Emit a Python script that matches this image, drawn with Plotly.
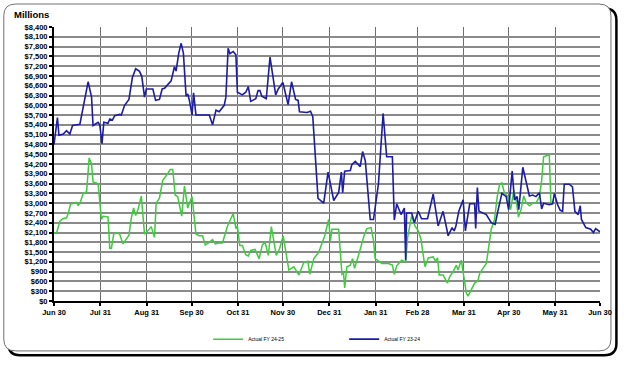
import plotly.graph_objects as go

# ---- data (day offset from Jun 30, value in $) ----
green_days = [0, 1.8, 4, 5.8, 8.4, 9.5, 11.1, 13.3, 15.1, 16.2, 17.8, 19.5, 21.8, 23.5, 25.1, 26.1, 29.5,
              31.7, 32.8, 36.1, 37.3, 38.4, 39.9, 41.7, 43.9, 46.1, 48.4, 50.1, 51.7, 53.2, 54.6, 56.1, 58.4,
              60.5, 62.7, 65, 67.2, 68.3, 70.5, 72.7, 76, 77.6, 79.4, 81, 82.7, 85.4, 87.2, 89.4, 90.5, 92.3,
              94.9, 97.1, 99.3, 101.1, 103.3, 106, 107.8, 110.4, 112.6, 114.4, 116, 118.2, 119.8, 121.6, 122.6,
              124.2, 125.9, 128.2, 129.9, 131.5, 134.4, 137.1, 139.3, 141.1, 143.3, 145.3, 148.6, 150.8, 153.2,
              157, 160.3, 163.7, 167, 169.7, 171, 173.7, 177, 181, 183.6, 184.8, 185.8, 190.3, 192.5, 193.6,
              194.3, 195.8, 198.1, 199.6, 200.9, 203.6, 206.9, 209.1, 212, 213.6, 214.7, 219.1, 223.6, 226.2,
              227.5, 229.1, 232.4, 235.1, 236.4, 239.1, 241.3, 243.5, 245.3, 248, 250.2, 253.5, 255, 256.4,
              257.5, 260.1, 263, 264.6, 266.8, 269, 270.1, 272.3, 274.1, 275.6, 276.8, 279, 281.2, 283.4,
              284.6, 286.8, 289, 290.1, 292.3, 293.4, 294.5, 296.3, 297.9, 299.4, 301.2, 303.4, 305.2, 307.4,
              308.9, 310.5, 312.2, 314, 315.6, 317.8, 320, 322.2, 324.5, 326, 327.3, 331.1, 332.2, 334]
green_values = [2080, 2100, 2450, 2520, 2550, 2680, 2970, 3000, 3020, 2920, 3050, 3300, 3350, 4380, 4200, 3650, 3600,
                2500, 2600, 2580, 1620, 1620, 2050, 2100, 2050, 1750, 1900, 2020, 2550, 2850, 2620, 2800, 3220,
                2050, 2150, 2280, 1950, 3000, 3150, 3700, 3900, 4030, 4030, 3250, 3200, 2600, 3520, 2850, 3000, 3200,
                2050, 2000, 2000, 1720, 1780, 1880, 1750, 1780, 1780, 2100, 2300, 2520, 2680, 2220, 2300,
                1700, 1700, 1420, 1380, 1550, 1580, 1300, 1720, 1800, 1400, 2280, 1400, 1600, 2000,
                950, 1050, 800, 1180, 1220, 820, 1300, 1500, 2000, 2500, 1850, 2200, 2200, 820, 850,
                400, 1050, 1100, 1300, 1000, 1400, 1950, 2220, 2250, 1850, 1300, 1150, 1150, 1100,
                820, 1080, 1250, 1200, 1950, 2620, 2300, 2150, 1900, 1050, 1320, 1350, 1220, 1320,
                800, 800, 550, 750, 900, 1100, 950, 1250, 700, 250, 150, 350, 550, 620,
                850, 1000, 1150, 1500, 2200, 2350, 2500, 3200, 3580, 3620, 3300, 3200, 2800, 3380,
                3100, 2580, 2800, 3220, 3020, 2920, 3000, 3000, 3200, 3700, 4420, 4480, 3000, 3000]

blue_days = [0, 2.3, 3.3, 6.2, 8.4, 10.6, 12.4, 17.3, 22.8, 25.1, 26.1, 29.5, 30.6, 32.1, 33.3, 36.1, 37.3, 39.1,
             40.6, 43.9, 45, 47.2, 50.1, 52.4, 54.6, 57.2, 58.7, 60.5, 61.7, 66.1, 67.9, 70.5, 72.3, 73.9, 75,
             78.3, 80.5, 81.6, 83.4, 85, 86.5, 88.3, 89.4, 90.5, 92.3, 93.3, 94.9, 103.8, 106, 108.3, 110.4,
             113.8, 114.9, 116.4, 117.6, 119.8, 121.6, 122.6, 125.9, 128.2, 129.9, 131.5, 134.9, 136.4, 137.7,
             138.9, 141.9, 144.4, 148.2, 149.9, 153, 154.8, 156.5, 158.8, 161.5, 163.2, 164.1, 169.2, 171.5,
             173, 176.5, 180.3, 183.2, 187, 190.3, 192.1, 193, 194.3, 198.1, 199.1, 201.4, 204.7, 206.3, 208.1,
             211.4, 213.6, 216.9, 220, 222.4, 226.2, 227.5, 229.1, 232, 234.2, 235.1, 235.7, 239.1, 240.9,
             242.4, 243.5, 245.7, 249.7, 253.5, 256.8, 260.1, 263.5, 266.1, 267.5, 268.6, 270.6, 273.5, 275,
             277.9, 281.2, 281.9, 283, 284.1, 289, 292.3, 294.9, 296.7, 299.4, 302.3, 303.9, 306.3, 307.8,
             309.6, 310.7, 313.4, 315.6, 317.8, 320, 322.2, 324.5, 326, 327.3, 331.1, 333.3, 334.5, 336.7,
             338.4, 340, 341.1, 344.4, 346.6, 348.2, 350.4, 351.8, 352.6, 355.5, 358.8, 360.6, 362.1, 365]
blue_values = [4800, 5620, 5080, 5120, 5220, 5120, 5380, 5420, 6720, 6250, 5380, 5480, 5400, 4820, 5480, 5450, 5580, 5550,
               5680, 5720, 5700, 6000, 6180, 6850, 7120, 7040, 6880, 6250, 6500, 6500, 6150, 6180, 6500, 6520, 6580,
               6750, 7180, 7050, 7600, 7900, 7600, 6280, 6350, 6150, 5700, 6380, 5700, 5700, 5400, 5850, 5800,
               6000, 6250, 7750, 7580, 7650, 7550, 6400, 6320, 6400, 6570, 6120, 6200, 6450, 6450,
               6280, 6200, 7480, 6320, 6500, 6700, 6300, 6020, 6720, 6180, 6150, 5800, 5780, 5820,
               5650, 3150, 3000, 3950, 3080, 3330, 3950, 3320, 3980, 4000, 4180, 4280, 4120, 4580, 4300,
               2500, 2500, 3600, 5750, 4420, 4420, 2480, 2980, 2650, 2850, 1250, 2700, 2700, 2400,
               2600, 2750, 2520, 2520, 3280, 2300, 2750, 2000, 2250, 2150, 2280, 2750, 3100, 2150,
               2980, 2980, 2220, 3480, 2750, 2650, 2400, 2350, 2750, 3300, 3200, 2800, 3980, 3100,
               3200, 2800, 4100, 3700, 3220, 3250, 3200, 3320, 2820, 3000, 2950, 2980, 3300, 2950,
               2780, 2750, 3580, 3580, 3500, 2750, 2650, 2920, 2500, 2250, 2200, 2100, 2220, 2120]

tick_days = [0, 31, 62, 92, 123, 153, 184, 215, 243, 274, 304, 335, 365]
tick_labels = ["Jun 30", "Jul 31", "Aug 31", "Sep 30", "Oct 31", "Nov 30", "Dec 31",
               "Jan 31", "Feb 28", "Mar 31", "Apr 30", "May 31", "Jun 30"]
y_ticks = list(range(0, 8401, 300))
y_labels = ["${:,}".format(v) for v in y_ticks]

# ---- layout geometry ----
WIDTH, HEIGHT = 624, 366
L, R, T, B = 54, 21, 27, 59
PW, PH = WIDTH - L - R, HEIGHT - T - B


def px(x):
    return (x - L) / PW


def py(y):
    return 1 - (y - T) / PH


def rrect(x0, y0, x1, y1, r):
    pts = [("M", x0 + r, y0), ("L", x1 - r, y0), ("Q", x1, y0, x1, y0 + r), ("L", x1, y1 - r),
           ("Q", x1, y1, x1 - r, y1), ("L", x0 + r, y1), ("Q", x0, y1, x0, y1 - r), ("L", x0, y0 + r),
           ("Q", x0, y0, x0 + r, y0)]
    s = ""
    for p in pts:
        cmd = p[0]
        coords = p[1:]
        parts = []
        for i in range(0, len(coords), 2):
            parts.append("{:.5f},{:.5f}".format(px(coords[i]), py(coords[i + 1])))
        s += cmd + " " + " ".join(parts) + " "
    return s + "Z"


fig = go.Figure()
fig.add_trace(go.Scatter(x=green_days, y=green_values, mode="lines", name="Actual FY 24-25",
                         line=dict(color="#3ccc3c", width=1.5)))
fig.add_trace(go.Scatter(x=blue_days, y=blue_values, mode="lines", name="Actual FY 23-24",
                         line=dict(color="#1c1ca8", width=1.6)))

shapes = [
    dict(type="path", xref="paper", yref="paper", layer="below", path=rrect(8, 8, 619.5, 362.5, 12),
         line=dict(color="black", width=2.5), fillcolor="rgba(0,0,0,0)"),
    dict(type="path", xref="paper", yref="paper", layer="below", path=rrect(3.5, 3.5, 614, 358, 12),
         line=dict(color="#707070", width=1), fillcolor="white"),
]

tickfont = dict(family="Liberation Sans, Arial", size=7.5, color="black", weight="bold")

fig.update_layout(
    width=WIDTH, height=HEIGHT,
    margin=dict(l=L, r=R, t=T, b=B),
    paper_bgcolor="white",
    plot_bgcolor="rgba(0,0,0,0)",
    shapes=shapes,
    showlegend=True,
    legend=dict(orientation="h", x=px(209), xanchor="left", y=py(346), yanchor="middle",
                font=dict(family="Liberation Sans, Arial", size=5, color="black"),
                entrywidth=91, entrywidthmode="pixels", bgcolor="rgba(0,0,0,0)",
                tracegroupgap=0),
    annotations=[dict(text="<b>Millions</b>", xref="paper", yref="paper", x=px(12), y=py(14),
                      xanchor="left", yanchor="middle", showarrow=False,
                      font=dict(family="Liberation Sans, Arial", size=9.5, color="black"))],
    xaxis=dict(range=[0, 365], tickvals=tick_days, ticktext=tick_labels, showgrid=True,
               gridcolor="#6e6e6e", gridwidth=1, showline=True, linecolor="black", linewidth=2,
               ticks="outside", ticklen=3, tickwidth=1.5, tickcolor="black", tickfont=tickfont,
               zeroline=False, fixedrange=True),
    yaxis=dict(range=[0, 8400], tickvals=y_ticks, ticktext=y_labels, showgrid=True,
               gridcolor="#8a8a8a", gridwidth=1.5, showline=True, linecolor="black", linewidth=2,
               ticks="outside", ticklen=3, tickwidth=1.5, tickcolor="black", tickfont=tickfont,
               zeroline=False, fixedrange=True),
)

fig.write_html("out.html", config={"displayModeBar": False},
               post_script="document.body.style.margin='0';")
